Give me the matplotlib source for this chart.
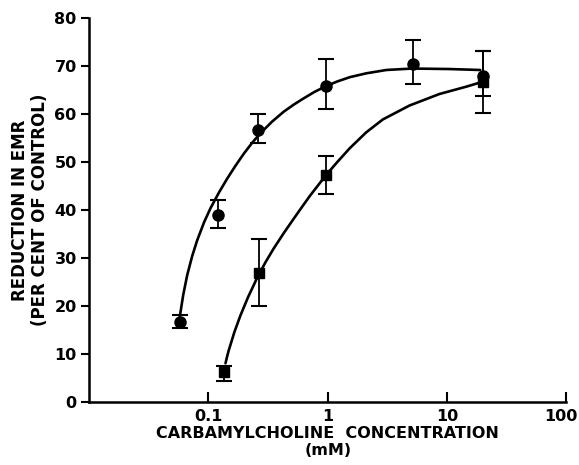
import matplotlib
matplotlib.use("Agg")
import matplotlib.pyplot as plt
import matplotlib.transforms as mtransforms

# circles (upper curve)
circ_x = [0.058, 0.12, 0.26, 0.96, 5.2, 20.0]
circ_y = [16.7, 39.0, 56.7, 65.8, 70.5, 68.0]
circ_err_lo = [1.3, 2.8, 2.7, 4.8, 4.3, 4.3]
circ_err_hi = [1.4, 3.1, 3.3, 5.7, 4.9, 5.1]

# squares (lower curve)
sq_x = [0.135, 0.267, 0.96, 20.0]
sq_y = [6.3, 27.0, 47.3, 66.8]
sq_err_lo = [1.9, 7.0, 4.0, 6.6]
sq_err_hi = [1.2, 7.0, 4.0, 6.3]

# fitted curves
circ_curve_x = [0.0575, 0.0615, 0.0664, 0.073, 0.0804, 0.092, 0.104, 0.122, 0.143, 0.168, 0.197,
                0.232, 0.272, 0.34, 0.427, 0.52, 0.62, 0.77, 0.96, 1.2, 1.53, 2.1, 3.1, 5.1,
                10.4, 19.0]
circ_curve_y = [17.8, 22.4, 26.5, 30.4, 33.7, 37.5, 40.4, 43.6, 46.5, 49.2, 51.7,
                54.0, 56.0, 58.4, 60.5, 62.0, 63.2, 64.6, 65.8, 66.8, 67.7, 68.5, 69.2, 69.5,
                69.4, 69.2]
sq_curve_x = [0.139, 0.143, 0.148, 0.165, 0.185, 0.215, 0.256, 0.30, 0.352, 0.43, 0.518,
              0.59, 0.71, 0.96, 1.2, 1.53, 2.1, 2.9, 4.85, 8.65, 14.4, 19.0]
sq_curve_y = [8.1, 9.4, 10.8, 14.6, 18.0, 21.9, 25.9, 29.1, 32.0, 35.3, 38.2,
              40.2, 43.0, 47.2, 50.0, 52.9, 56.2, 58.9, 61.8, 64.2, 65.7, 66.6]

x_ticks = [0.1, 1, 10, 100]
x_tick_labels = ["0.1", "1", "10", "100"]
y_ticks = [0, 10, 20, 30, 40, 50, 60, 70, 80]

plt.rcParams["font.family"] = ["DejaVu Sans"]
plt.rcParams["font.weight"] = "bold"

fig = plt.figure(figsize=(5.79, 4.65), dpi=100)
ax = fig.add_axes([0.154, 0.135, 0.824, 0.826])

ax.plot(circ_curve_x, circ_curve_y, color="black", lw=1.9, solid_capstyle="round")
ax.plot(sq_curve_x, sq_curve_y, color="black", lw=1.9, solid_capstyle="round")

ax.errorbar(circ_x, circ_y, yerr=[circ_err_lo, circ_err_hi], fmt="o", color="black",
            ms=8, ecolor="black", elinewidth=1.3, capsize=6, capthick=1.5)
ax.errorbar(sq_x, sq_y, yerr=[sq_err_lo, sq_err_hi], fmt="s", color="black",
            ms=7, ecolor="black", elinewidth=1.3, capsize=6, capthick=1.5)

ax.set_xscale("log")
ax.set_xlim(0.01, 100)
ax.set_ylim(0, 80)
ax.set_xticks(x_ticks)
ax.set_xticklabels(x_tick_labels)
ax.minorticks_off()
ax.set_yticks(y_ticks)

for side in ["top", "right"]:
    ax.spines[side].set_visible(False)
for side in ["left", "bottom"]:
    ax.spines[side].set_linewidth(1.8)

ax.tick_params(axis="x", direction="in", length=7, width=1.5, labelsize=11.5, pad=5)
ax.tick_params(axis="y", direction="out", length=6, width=1.5, labelsize=11.5, pad=3)

# keep the "100" label inside the figure, as in the original
last = ax.get_xticklabels()[-1]
last.set_transform(last.get_transform() +
                   mtransforms.ScaledTranslation(-5 / 100, 0, fig.dpi_scale_trans))

ax.set_xlabel("CARBAMYLCHOLINE  CONCENTRATION\n(mM)", fontsize=11.5, fontweight="bold",
              labelpad=1, linespacing=1.2)
ax.set_ylabel("REDUCTION IN EMR\n(PER CENT OF CONTROL)", fontsize=12, fontweight="bold",
              labelpad=4, linespacing=1.15)

fig.savefig("out.png", dpi=100)
